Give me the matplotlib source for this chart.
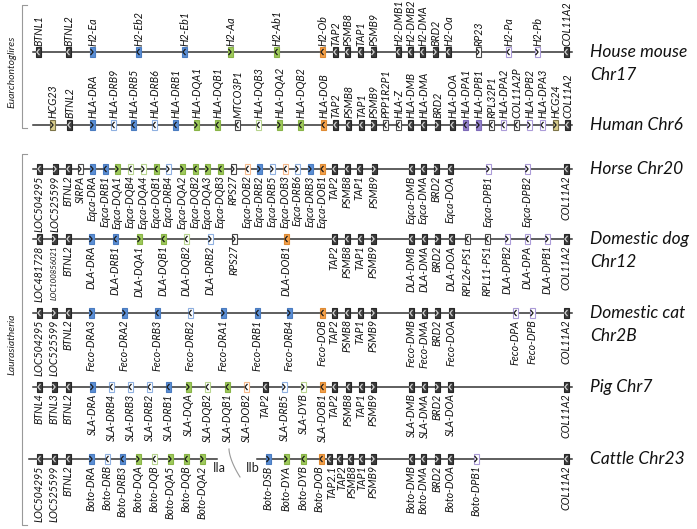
import numpy as np
import matplotlib
matplotlib.use("Agg")
import matplotlib.pyplot as plt
from matplotlib.patches import Rectangle

# gene tuples: (name, position along the schematic, class, strand)
# class: o = other, r = DR, q = DQ, b = DOB, p = DP, k = HCG; trailing "p" = pseudogene
mouse = [("BTNL1", 38, "o", -1), ("BTNL2", 68, "o", -1), ("H2-Ea", 92, "r", 1),
         ("H2-Eb2", 138, "r", -1), ("H2-Eb1", 184, "r", -1), ("H2-Aa", 230, "q", 1),
         ("H2-Ab1", 276, "q", -1), ("H2-Ob", 322, "b", -1), ("TAP2", 335, "o", -1),
         ("PSMB8", 347, "o", -1), ("TAP1", 360, "o", -1), ("PSMB9", 373, "o", 1),
         ("H2-DMB1", 398, "o", -1), ("H2-DMB2", 410, "o", -1), ("H2-DMA", 422, "o", -1),
         ("BRD2", 435, "o", 1), ("H2-Oa", 448, "o", -1), ("RP23", 478, "op", 1),
         ("H2-Pa", 508, "pp", -1), ("H2-Pb", 537, "pp", 1), ("COL11A2", 566, "o", -1)]

human = [("HCG23", 52, "k", 1), ("BTNL2", 69, "o", -1), ("HLA-DRA", 92, "r", 1),
         ("HLA-DRB9", 113, "rp", -1), ("HLA-DRB5", 133, "r", -1), ("HLA-DRB6", 154, "rp", -1),
         ("HLA-DRB1", 175, "r", -1), ("HLA-DQA1", 196, "q", 1), ("HLA-DQB1", 217, "q", -1),
         ("MTCO3P1", 237, "op", -1), ("HLA-DQB3", 258, "qp", -1), ("HLA-DQA2", 279, "q", 1),
         ("HLA-DQB2", 300, "q", -1), ("HLA-DOB", 323, "b", -1), ("TAP2", 335, "o", -1),
         ("PSMB8", 348, "o", -1), ("TAP1", 361, "o", -1), ("PSMB9", 373, "o", 1),
         ("PPP1R2P1", 385, "op", -1), ("HLA-Z", 398, "op", -1), ("HLA-DMB", 410, "o", -1),
         ("HLA-DMA", 423, "o", -1), ("BRD2", 437, "o", 1), ("HLA-DOA", 452, "o", -1),
         ("HLA-DPA1", 465, "p", -1), ("HLA-DPB1", 478, "p", 1), ("RPL32P1", 491, "op", -1),
         ("HLA-DPA2", 503, "pp", -1), ("COL11A2P", 516, "op", -1), ("HLA-DPB2", 529, "pp", 1),
         ("HLA-DPA3", 542, "pp", -1), ("HCG24", 555, "k", 1), ("COL11A2", 567, "o", -1)]

horse = [("LOC504295", 39, "o", -1), ("LOC525599", 55, "o", 1), ("BTNL2", 68, "o", -1),
         ("SIRPA", 80, "op", 1), ("Eqca-DRA", 92, "r", 1), ("Eqca-DRB1", 105, "r", -1),
         ("Eqca-DQA1", 117, "q", 1), ("Eqca-DQB4", 130, "qp", -1), ("Eqca-DQA4", 143, "qp", 1),
         ("Eqca-DQB1", 156, "q", -1), ("Eqca-DRB4", 168, "rp", 1), ("Eqca-DQA2", 182, "q", 1),
         ("Eqca-DQB2", 195, "q", -1), ("Eqca-DQA3", 207, "q", 1), ("Eqca-DQB3", 220, "q", -1),
         ("RPS27", 233, "op", 1), ("Eqca-DOB2", 247, "bp", -1), ("Eqca-DRB2", 259, "r", 1),
         ("Eqca-DRB5", 272, "rp", 1), ("Eqca-DOB3", 285, "bp", -1), ("Eqca-DRB6", 297, "rp", 1),
         ("Eqca-DRB3", 310, "r", 1), ("Eqca-DOB1", 322, "b", -1), ("TAP2", 334, "o", -1),
         ("PSMB8", 347, "o", -1), ("TAP1", 359, "o", -1), ("PSMB9", 374, "o", 1),
         ("Eqca-DMB", 411, "o", -1), ("Eqca-DMA", 423, "o", -1), ("BRD2", 436, "o", 1),
         ("Eqca-DOA", 450, "o", -1), ("Eqca-DPB1", 488, "pp", 1), ("Eqca-DPB2", 527, "pp", 1),
         ("COL11A2", 566, "o", -1)]

dog = [("LOC481728", 39, "o", -1), ("LOC100856021", 54, "o", 1), ("BTNL2", 68, "o", -1),
       ("DLA-DRA", 91, "r", 1), ("DLA-DRB1", 115, "r", -1), ("DLA-DQA1", 139, "q", 1),
       ("DLA-DQB1", 163, "q", -1), ("DLA-DQB2", 186, "qp", -1), ("DLA-DRB2", 210, "rp", 1),
       ("RPS27", 234, "op", 1), ("DLA-DOB1", 286, "b", -1), ("TAP2", 334, "o", -1),
       ("PSMB8", 347, "o", -1), ("TAP1", 360, "o", -1), ("PSMB9", 373, "o", 1),
       ("DLA-DMB", 411, "o", -1), ("DLA-DMA", 424, "o", -1), ("BRD2", 437, "o", 1),
       ("DLA-DOA", 451, "o", -1), ("RPL26-PS1", 467, "op", -1), ("RPL11-PS1", 487, "op", -1),
       ("DLA-DPB2", 507, "pp", 1), ("DLA-DPA", 527, "pp", -1), ("DLA-DPB1", 547, "pp", 1),
       ("COL11A2", 566, "o", -1)]

cat = [("LOC504295", 39, "o", -1), ("LOC525599", 54, "o", 1), ("BTNL2", 68, "o", -1),
       ("Feco-DRA3", 91, "r", 1), ("Feco-DRA2", 124, "r", 1), ("Feco-DRB3", 157, "r", -1),
       ("Feco-DRB2", 190, "rp", -1), ("Feco-DRA1", 223, "r", 1), ("Feco-DRB1", 257, "r", -1),
       ("Feco-DRB4", 289, "r", 1), ("Feco-DOB", 322, "b", -1), ("TAP2", 334, "o", -1),
       ("PSMB8", 347, "o", -1), ("TAP1", 360, "o", -1), ("PSMB9", 373, "o", 1),
       ("Feco-DMB", 411, "o", -1), ("Feco-DMA", 424, "o", -1), ("BRD2", 437, "o", 1),
       ("Feco-DOA", 451, "o", -1), ("Feco-DPA", 515, "pp", -1), ("Feco-DPB", 532, "pp", 1),
       ("COL11A2", 566, "o", -1)]

pig = [("BTNL4", 39, "o", -1), ("BTNL3", 54, "o", 1), ("BTNL2", 68, "o", -1),
       ("SLA-DRA", 92, "r", 1), ("SLA-DRB4", 111, "rp", -1), ("SLA-DRB3", 130, "rp", -1),
       ("SLA-DRB2", 149, "rp", -1), ("SLA-DRB1", 168, "r", -1), ("SLA-DQA", 188, "q", 1),
       ("SLA-DQB2", 207, "qp", -1), ("SLA-DQB1", 227, "q", -1), ("SLA-DOB2", 246, "bp", -1),
       ("TAP2", 265, "o", -1), ("SLA-DRB5", 284, "rp", 1), ("SLA-DYB", 303, "qp", 1),
       ("SLA-DOB1", 322, "b", -1), ("TAP2", 334, "o", -1), ("PSMB8", 348, "o", -1),
       ("TAP1", 361, "o", -1), ("PSMB9", 373, "o", 1), ("SLA-DMB", 411, "o", -1),
       ("SLA-DMA", 424, "o", -1), ("BRD2", 437, "o", 1), ("SLA-DOA", 450, "o", -1),
       ("COL11A2", 566, "o", -1)]

cattle = [("LOC504295", 39, "o", -1), ("LOC525599", 54, "o", -1), ("BTNL2", 68, "o", -1),
          ("Boto-DRA", 91, "r", 1), ("Boto-DRB", 107, "rp", -1), ("Boto-DRB3", 122, "r", -1),
          ("Boto-DQA", 138, "q", 1), ("Boto-DQB", 154, "qp", -1), ("Boto-DQA5", 170, "q", 1),
          ("Boto-DQB", 186, "q", -1), ("Boto-DQA2", 202, "q", 1), ("Boto-DSB", 268, "r", 1),
          ("Boto-DYA", 286, "q", 1), ("Boto-DYB", 303, "q", -1), ("Boto-DOB", 321, "b", -1),
          ("TAP2.1", 329, "o", -1), ("TAP2", 339, "o", -1), ("PSMB8", 350, "o", -1),
          ("TAP1", 361, "o", -1), ("PSMB9", 373, "o", 1), ("Boto-DMB", 411, "o", -1),
          ("Boto-DMA", 423, "o", -1), ("BRD2", 437, "o", 1), ("Boto-DOA", 450, "o", -1),
          ("Boto-DPB1", 476, "pp", 1), ("COL11A2", 566, "o", -1)]

# (genes, row y, labels above?, species label lines)
rows = [(mouse, 52, True, ["House mouse", "Chr17"]),
        (human, 125, True, ["Human Chr6"]),
        (horse, 169, False, ["Horse Chr20"]),
        (dog, 239, False, ["Domestic dog", "Chr12"]),
        (cat, 313, False, ["Domestic cat", "Chr2B"]),
        (pig, 387, False, ["Pig Chr7"]),
        (cattle, 459, False, ["Cattle Chr23"])]

# box style per class: face, edge, chevron colour
styles = {
    "o":  ("#3d3d3d", "#262626", "#d0d0d0"),
    "op": ("white", "#4a4a4a", "#222222"),
    "k":  ("#d8cd8c", "#7d7448", "#222222"),
    "r":  ("#5b8fd6", "#4a7cc0", "#1a1a1a"),
    "rp": ("white", "#8fb0e0", "#1a1a1a"),
    "q":  ("#9fca5c", "#88b446", "#1a1a1a"),
    "qp": ("white", "#b7d48e", "#1a1a1a"),
    "b":  ("#f5a24c", "#df8a32", "#1a1a1a"),
    "bp": ("white", "#f6b98a", "#1a1a1a"),
    "p":  ("#9583cc", "#7d69b8", "#1a1a1a"),
    "pp": ("white", "#ab9bd8", "#1a1a1a"),
}

# crowded cattle labels are nudged sideways off their boxes
nudge = {"Boto-DOB": -2.5, "TAP2.1": 2.5, "TAP2": 2.5, "PSMB8": 2, "TAP1": 1}

FONT = "Lato"
W, H = 697, 529
fig = plt.figure(figsize=(W / 100, H / 100), dpi=100)
ax = fig.add_axes([0, 0, 1, 1])
ax.set_xlim(0, W)
ax.set_ylim(H, 0)
ax.axis("off")

bw, bh = 5, 10
for genes, y, above, spname in rows:
    if genes is cattle:
        ax.plot([29, 217], [y, y], color="#333333", lw=1.1, zorder=1)
        ax.plot([257, 572], [y, y], color="#333333", lw=1.1, zorder=1)
    else:
        ax.plot([33, 572], [y, y], color="#333333", lw=1.1, zorder=1)
    for name, x, kind, strand in genes:
        fc, ec, cc = styles[kind]
        ax.add_patch(Rectangle((x - bw / 2, y - bh / 2), bw, bh, facecolor=fc,
                               edgecolor=ec, lw=0.8, zorder=2))
        d = 1.1 * strand
        ax.plot([x - d, x + d, x - d], [y - 2.6, y, y + 2.6], color=cc, lw=0.9, zorder=3)
        fs = 5.6 if name == "LOC100856021" else 7.7
        if above:
            ax.text(x + 0.5, y - bh / 2 - 1.5, name, rotation=90, ha="center", va="bottom",
                    fontsize=fs, style="italic", family=FONT, color="#111111")
        else:
            lx = x + (nudge.get(name, 0) if genes is cattle else 0)
            ax.text(lx, y + bh / 2 + 1.5, name, rotation=90, ha="center", va="top",
                    fontsize=fs, style="italic", family=FONT, color="#111111")
    for i, line in enumerate(spname):
        ax.text(590, y + i * 23, line, ha="left", va="center", fontsize=12.5,
                style="italic", family=FONT, color="#111111")

# IIa / IIb split on the cattle chromosome
ax.text(213, 468, "IIa", ha="left", va="center", fontsize=9, family=FONT, color="#222222")
ax.text(246, 468, "IIb", ha="left", va="center", fontsize=9, family=FONT, color="#222222")
t = np.linspace(0, 1, 30)
ax.plot(229 + 11 * t ** 1.6, 449 + 28 * t, color="#999999", lw=0.8)

# clade brackets
for y0, y1, label in [(5, 128, "Euarchontoglires"), (154, 525, "Laurasiatheria")]:
    ax.plot([27, 22, 22, 27], [y0, y0, y1, y1], color="#999999", lw=0.8)
    ax.text(12, (y0 + y1) / 2 + 5, label, rotation=90, ha="center", va="center",
            fontsize=7.5, style="italic", family=FONT, color="#222222")

fig.savefig("out.png", dpi=100)
